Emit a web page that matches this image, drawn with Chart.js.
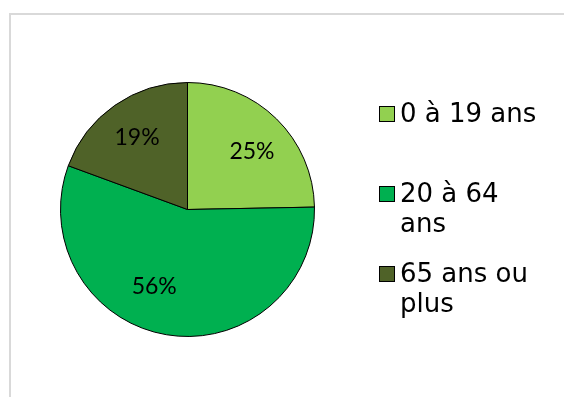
<!DOCTYPE html>
<html lang="fr">
<head>
<meta charset="utf-8">
<script src="https://cdn.jsdelivr.net/npm/chart.js@4/dist/chart.umd.min.js"></script>
<style>
    html, body { margin: 0; padding: 0; background: #fff; overflow: hidden; }
    #cadre { position: absolute; left: 9px; top: 13px; width: 600px; height: 500px;
             border-top: 2px solid #D9D9D9; border-left: 2px solid #D9D9D9; }
    #graphique { position: absolute; left: 0; top: 0; }
</style>
</head>
<body>
<div id="cadre"></div>
<canvas id="graphique" width="564" height="397"></canvas>
<script>
const categories = ['0 à 19 ans', '20 à 64 ans', '65 ans ou plus'];
const valeurs = [24.7, 55.9, 19.4];
const couleurs = ['#92D050', '#00B050', '#4F6228'];

const policeEtiquettes = '23px Lato';
const policeLegende = '26px "DejaVu Sans"';

// étiquettes de pourcentage posées sur chaque part
const etiquettesParts = {
    id: 'etiquettesParts',
    afterDatasetsDraw(chart, args, opts) {
        const ctx = chart.ctx;
        const arcs = chart.getDatasetMeta(0).data;
        ctx.save();
        ctx.font = opts.police;
        ctx.fillStyle = '#000';
        ctx.textAlign = 'center';
        ctx.textBaseline = 'middle';
        arcs.forEach((arc, i) => {
            const { x, y, startAngle, endAngle, outerRadius } = arc.getProps(['x', 'y', 'startAngle', 'endAngle', 'outerRadius'], true);
            const milieu = (startAngle + endAngle) / 2;
            const r = outerRadius * opts.rayon;
            const decal = opts.decalages[i] || [0, 0];
            const texte = Math.round(valeurs[i]) + '%';
            ctx.fillText(texte, x + Math.cos(milieu) * r + decal[0], y + Math.sin(milieu) * r + decal[1]);
        });
        ctx.restore();
    }
};

// légende à droite, avec retour à la ligne comme dans Excel
const legendeExcel = {
    id: 'legendeExcel',
    afterDraw(chart, args, opts) {
        const ctx = chart.ctx;
        ctx.save();
        ctx.font = opts.police;
        ctx.textBaseline = 'alphabetic';
        ctx.textAlign = 'left';
        chart.data.labels.forEach((label, i) => {
            const base = opts.haut + i * opts.pas;
            // case de couleur
            ctx.fillStyle = couleurs[i];
            ctx.fillRect(opts.xCase, base - opts.taille, opts.taille, opts.taille);
            ctx.strokeStyle = '#000';
            ctx.lineWidth = 1;
            ctx.strokeRect(opts.xCase + 0.5, base - opts.taille + 0.5, opts.taille - 1, opts.taille - 1);
            // texte coupé en lignes
            const mots = label.split(' ');
            const lignes = [];
            let courante = '';
            mots.forEach(m => {
                const essai = courante ? courante + ' ' + m : m;
                if (ctx.measureText(essai).width > opts.largeurMax && courante) {
                    lignes.push(courante);
                    courante = m;
                } else {
                    courante = essai;
                }
            });
            lignes.push(courante);
            ctx.fillStyle = '#000';
            lignes.forEach((l, j) => ctx.fillText(l, opts.xTexte, base + j * opts.interligne));
        });
        ctx.restore();
    }
};

function dessiner() {
    new Chart(document.getElementById('graphique').getContext('2d'), {
        type: 'pie',
        data: {
            labels: categories,
            datasets: [{
                data: valeurs,
                backgroundColor: couleurs,
                borderColor: '#000',
                borderWidth: 1
            }]
        },
        options: {
            responsive: false,
            animation: false,
            layout: { padding: { left: 60, top: 82, right: 249, bottom: 60 } },
            plugins: {
                legend: { display: false },
                tooltip: { enabled: false },
                etiquettesParts: {
                    police: policeEtiquettes,
                    rayon: 0.68,
                    decalages: [[4, 4], [-19, -8], [-1, -1]]
                },
                legendeExcel: {
                    police: policeLegende,
                    xCase: 379,
                    taille: 16,
                    xTexte: 400,
                    haut: 122,
                    pas: 80,
                    interligne: 30,
                    largeurMax: 142
                }
            }
        },
        plugins: [etiquettesParts, legendeExcel]
    });
}

Promise.all([document.fonts.load(policeEtiquettes), document.fonts.load(policeLegende)])
    .then(dessiner, dessiner);
</script>
</body>
</html>
